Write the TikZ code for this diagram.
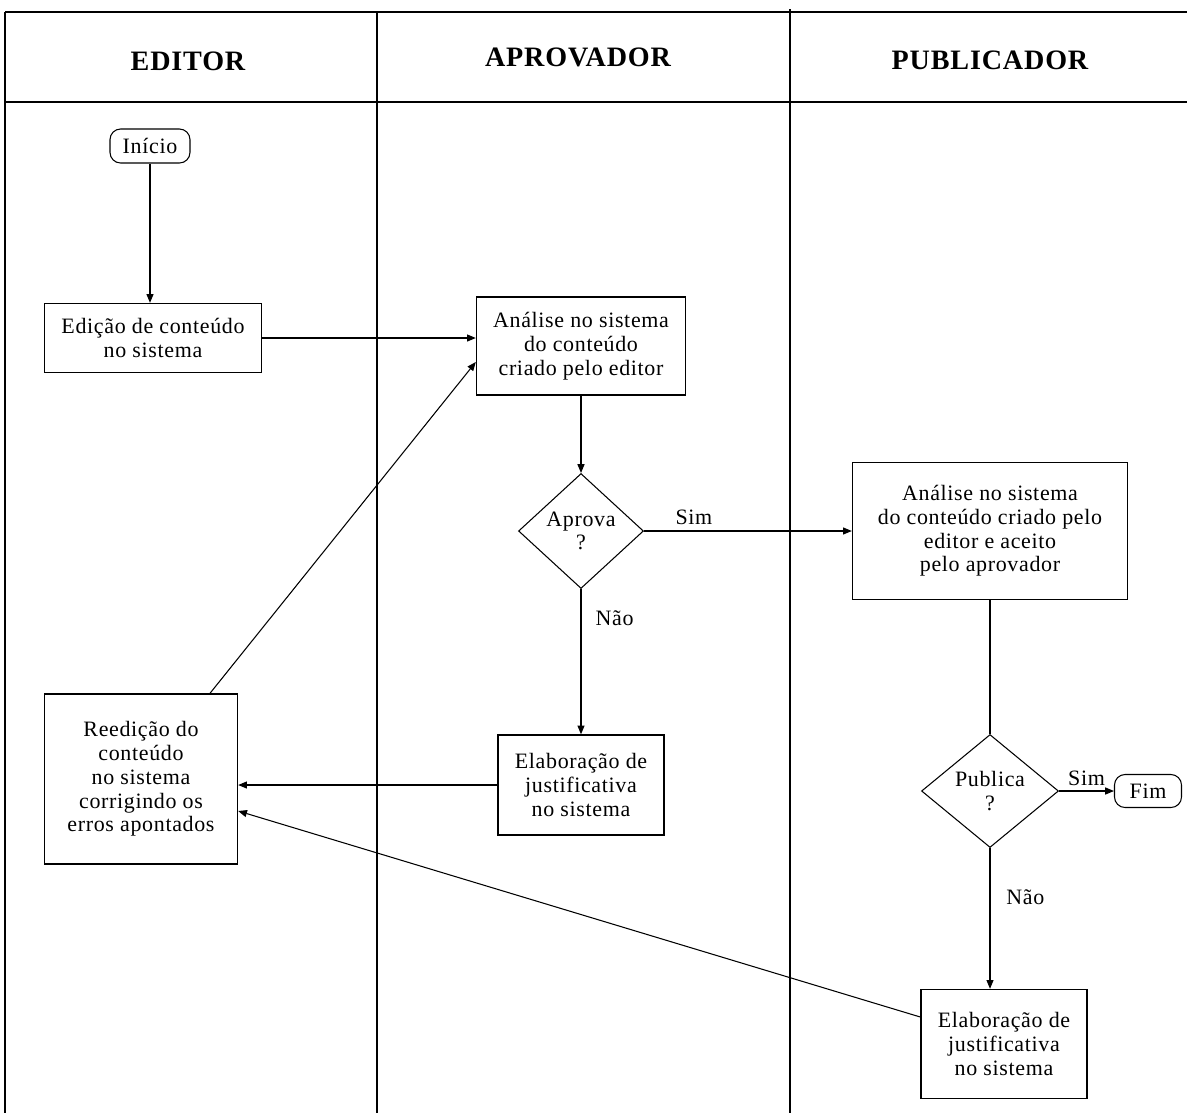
\documentclass[tikz,border=0pt]{standalone}
\usepackage{fontspec}
\setmainfont{Liberation Serif}[LetterSpace=3]
\usetikzlibrary{shapes.geometric,arrows.meta}

\begin{document}
\begin{tikzpicture}[x=0.02cm, y=-0.02cm,
  every node/.style={font=\fontsize{12.5}{13.5}\selectfont, align=center, inner sep=0pt},
  box/.style={draw, line width=0.8pt, rectangle},
  terminal/.style={draw, line width=0.6pt, rounded corners=6pt},
  decision/.style={draw, line width=0.6pt, diamond, aspect=1},
  flow/.style={line width=0.6pt, -{Triangle[length=5pt, width=4pt]}},
  lane/.style={font=\fontsize{16}{18}\selectfont\bfseries}]
\useasboundingbox (0,0) rectangle (1187,1113);

% Draw the lanes
\draw[line width=1.4pt] (5,12) -- (1187,12);
\draw[line width=1.4pt] (5,102) -- (1187,102);
\draw[line width=0.8pt] (5,12) -- (5,1113);
\draw[line width=0.8pt] (377,12) -- (377,1113);
\draw[line width=0.8pt] (790,9) -- (790,1113);
\node[lane] (editor) at (188,61) {EDITOR};
\node[lane] (aprovador) at (578,57) {APROVADOR};
\node[lane] (publicador) at (990,60) {PUBLICADOR};

% Editor
\node[terminal, minimum width=1.6cm, minimum height=0.68cm] (inicio) at (150,146) {Início};
\node[box, minimum width=4.34cm, minimum height=1.38cm] (edicao) at (153,338) {Edição de conteúdo\\no sistema};
\node[box, minimum width=3.86cm, minimum height=3.4cm] (reedicao) at (141,779) {Reedição do\\conteúdo\\no sistema\\corrigindo os\\erros apontados};

% Aprovador
\node[box, minimum width=4.18cm, minimum height=1.96cm] (analise) at (581,346) {Análise no sistema\\do conteúdo\\criado pelo editor};
\node[decision, minimum width=2.5cm, minimum height=2.3cm] (aprova) at (581,531) {Aprova\\?};
\node[box, minimum width=3.32cm, minimum height=2.0cm] (justaprov) at (581,785) {Elaboração de\\justificativa\\no sistema};

% Publicador
\node[box, minimum width=5.5cm, minimum height=2.74cm] (analisepub) at (990,531) {Análise no sistema\\do conteúdo criado pelo\\editor e aceito\\pelo aprovador};
\node[decision, minimum width=2.74cm, minimum height=2.26cm] (publica) at (990,791) {Publica\\?};
\node[terminal, minimum width=1.34cm, minimum height=0.66cm] (fim) at (1148,791) {Fim};
\node[box, minimum width=3.32cm, minimum height=2.18cm] (justpub) at (1004,1044) {Elaboração de\\justificativa\\no sistema};

% Connectors
\draw[flow] (inicio.south) -- (inicio.south |- edicao.north);
\draw[flow] (edicao.east) -- (edicao.east -| analise.west);
\draw[flow] (analise) -- (aprova);
\draw[flow] (aprova.east) -- node[pos=0.24, above=3pt] {Sim} (aprova.east -| analisepub.west);
\draw[flow] (aprova) -- node[pos=0.2, right=8pt] {Não} (justaprov);
\draw[line width=0.6pt] (analisepub) -- (publica);
\draw[flow] (publica.east) -- node[pos=0.5, above=3pt] {Sim} (publica.east -| fim.west);
\draw[flow] (publica.south) -- node[pos=0.35, right=9pt] {Não} (publica.south |- justpub.north);
\draw[flow] (justaprov.west) -- (justaprov.west -| reedicao.east);
\draw[flow] ([xshift=1.38cm]reedicao.north) -- ([yshift=-0.32cm]analise.west);
\draw[flow] ([yshift=0.54cm]justpub.west) -- ([yshift=-0.64cm]reedicao.east);
\end{tikzpicture}
\end{document}
